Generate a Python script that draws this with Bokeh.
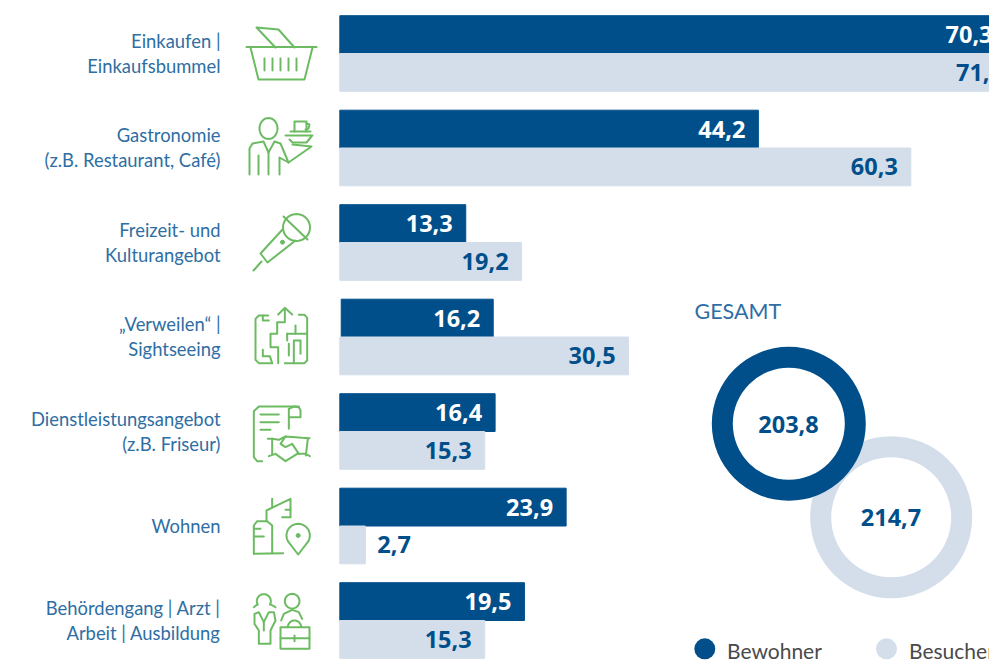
import math
from bokeh.plotting import figure
from bokeh.models import ColumnDataSource, Range1d
from bokeh.core.properties import value
from bokeh.embed import file_html
from bokeh.resources import INLINE

# ---------- data ----------
categories = [
    ["Einkaufen |", "Einkaufsbummel"],
    ["Gastronomie", "(z.B. Restaurant, Café)"],
    ["Freizeit- und", "Kulturangebot"],
    ["„Verweilen“ |", "Sightseeing"],
    ["Dienstleistungsangebot", "(z.B. Friseur)"],
    ["Wohnen"],
    ["Behördengang | Arzt |", "Arbeit | Ausbildung"],
]
bewohner = [70.3, 44.2, 13.3, 16.2, 16.4, 23.9, 19.5]
besucher = [71.4, 60.3, 19.2, 30.5, 15.3, 2.7, 15.3]
gesamt_title = "GESAMT"
gesamt_bewohner = 203.8
gesamt_besucher = 214.7
legend_names = ["Bewohner", "Besucher"]

# ---------- style ----------
DARK = "#004f8b"
LIGHT = "#d3deea"
TEXT = "#2e6ea3"
GREEN = "#6cbb63"
GREY = "#4a4a4a"
LABEL_FONT = "Lato"
VALUE_FONT = "Open Sans"

W, H = 989, 665
PX_PER_UNIT = 9.47
X0 = 339.3          # page px of value 0
Y0 = 53.0           # page px of first row centre
ROW = 94.5
BAR = 0.4
PAD = 13


def fmt(v):
    return f"{v:.1f}".replace(".", ",")


p = figure(
    width=W, height=H, output_backend="svg", toolbar_location=None,
    x_range=Range1d((0 - X0) / PX_PER_UNIT, (W - X0) / PX_PER_UNIT),
    y_range=Range1d((H - Y0) / ROW, (0 - Y0) / ROW),
    min_border=0, outline_line_color=None, background_fill_color="white",
    border_fill_color="white",
)
p.xaxis.visible = False
p.yaxis.visible = False
p.grid.visible = False
p.extra_x_ranges = {"px": Range1d(0, W)}
p.extra_y_ranges = {"px": Range1d(H, 0)}
PX = dict(x_range_name="px", y_range_name="px")

rows = list(range(len(categories)))
src = ColumnDataSource(dict(
    row_a=[r - BAR / 2 for r in rows],
    row_b=[r + BAR / 2 for r in rows],
    bew=bewohner, bes=besucher,
    bew_start=[0.15 if r == 3 else 0 for r in rows],   # the reference's 4th dark bar starts a little to the right
    bew_l=[fmt(v) for v in bewohner], bes_l=[fmt(v) for v in besucher],
))
p.hbar(y="row_a", right="bew", left="bew_start", height=BAR, color=DARK, source=src)
p.hbar(y="row_b", right="bes", left=0, height=BAR, color=LIGHT, source=src)

vfont = dict(text_font=value(VALUE_FONT), text_font_style="bold",
             text_font_size="23.5px", text_baseline="middle")
p.text(x="bew", y="row_a", text="bew_l", text_color="white", text_align="right",
       x_offset=-PAD, source=src, **vfont)
inside = [i for i in rows if besucher[i] >= 5]
outside = [i for i in rows if besucher[i] < 5]
p.text(x=[besucher[i] for i in inside], y=[i + BAR / 2 for i in inside],
       text=[fmt(besucher[i]) for i in inside], text_color=DARK, text_align="right",
       x_offset=-PAD, **vfont)
p.text(x=[besucher[i] for i in outside], y=[i + BAR / 2 for i in outside],
       text=[fmt(besucher[i]) for i in outside], text_color=DARK, text_align="left",
       x_offset=12, **vfont)

# category labels
lx, ly, lt = [], [], []
for r, lines in enumerate(categories):
    n = len(lines)
    for k, t in enumerate(lines):
        lx.append(220)
        ly.append(Y0 + r * ROW + (k - (n - 1) / 2) * 25 - 0.5)
        lt.append(t)
p.text(x=lx, y=ly, text=lt, text_color=TEXT, text_align="right", text_baseline="middle",
       text_font=value(LABEL_FONT), text_font_size="18.4px", **PX)


# ---------- icons (decoration, page pixel coordinates) ----------
def circ(cx, cy, rx, ry=None, a0=0, a1=360, n=40):
    ry = rx if ry is None else ry
    pts = [(cx + rx * math.cos(math.radians(a0 + (a1 - a0) * i / n)),
            cy + ry * math.sin(math.radians(a0 + (a1 - a0) * i / n))) for i in range(n + 1)]
    return pts


def z(pts, ox, oy):
    return [(ox + a / 3, oy + b / 3) for a, b in pts]


icons = []
# basket
icons += [[(246, 46.5), (316, 46.5)], [(250, 47), (258, 79), (304, 79), (312, 47)],
          [(264, 58), (264, 70)], [(272, 58), (272, 70)], [(280, 58), (280, 70)],
          [(288, 58), (288, 70)], [(296, 58), (296, 70)],
          [(275, 47), (256, 27), (278, 29), (294, 47)]]
# waiter
icons += [circ(268, 128, 9, 10.5),
          [(249, 174), (249, 148), (252, 143), (263, 141), (268, 152), (274, 141), (280, 143),
           (288, 162), (311, 146), (292, 144)],
          [(258, 174), (258, 155)], [(268, 152), (268, 174)], [(279, 174), (279, 157), (288, 162)],
          [(285, 135), (312, 135)], [(289, 139), (292, 142), (306, 142), (311, 136)],
          [(294, 131), (294, 121), (306, 121), (306, 131)], [(290, 131), (310, 131)],
          [(306, 123), (309, 124), (308, 128), (305, 129)]]
# microphone
icons += [circ(296, 227, 13.5),
          [(283, 216), (307, 239)],
          [(282, 229), (260, 253), (267, 262), (295, 240)],
          [(261, 261), (253, 270)]]
# maze
M = [[(113, 375), (85, 375), (75, 385), (75, 508), (85, 518), (125, 518)],
     [(97, 375), (97, 390), (115, 390)], [(97, 478), (97, 497), (118, 497), (125, 518)],
     [(163, 355), (163, 395), (140, 395), (140, 430), (120, 430), (120, 470), (143, 470), (143, 518)],
     [(143, 372), (163, 352), (185, 372)],
     [(205, 373), (222, 373), (230, 382), (230, 510), (222, 518), (163, 518)],
     [(170, 430), (230, 430)], [(170, 430), (170, 450)], [(195, 405), (195, 430)],
     [(175, 460), (175, 495)], [(190, 518), (190, 450), (210, 450), (210, 490)]]
icons += [z(m, 230, 190) for m in M]
# document + handshake
D = [[(205, 648), (85, 648), (70, 662), (70, 800), (80, 812), (95, 812)],
     [(175, 715), (175, 655), (190, 648), (205, 650), (210, 660), (210, 680), (175, 680)],
     [(90, 672), (145, 672)], [(90, 695), (145, 695)], [(90, 718), (120, 718)],
     [(112, 745), (125, 745), (145, 748), (165, 738), (215, 742), (237, 743)],
     [(125, 745), (125, 790)], [(232, 745), (226, 795)],
     [(115, 797), (135, 790), (165, 812), (200, 790), (225, 790), (238, 797)],
     [(165, 738), (150, 760), (165, 770), (185, 760), (205, 790)]]
icons += [z(m, 230, 190) for m in D]
# building + pin
B = [[(70, 220), (70, 135), (80, 122), (110, 122), (125, 135), (125, 218)],
     [(70, 220), (158, 218)], [(70, 145), (90, 145)], [(70, 168), (100, 168)],
     [(108, 122), (108, 90), (180, 55), (180, 110), (155, 110)],
     [(125, 55), (125, 80)], [(165, 88), (180, 88)],
     [(203, 222)] + circ(203, 165, 35, 35, 145, 395) + [(203, 222)]]
icons += [z(m, 230, 480) for m in B]
# people
P = [circ(100, 362, 21, 21, 150, 390 + 0),
     [(70, 380), (80, 372)], [(135, 380), (121, 372)],
     [(85, 490), (120, 490), (120, 450), (135, 420), (130, 395), (115, 395), (100, 425), (85, 395),
      (72, 400), (72, 430), (85, 450), (85, 490)],
     [(100, 425), (100, 450)],
     circ(185, 362, 22),
     [(152, 420), (160, 400), (185, 388), (205, 395), (215, 415)],
     [(150, 440), (237, 440), (237, 505), (150, 505), (150, 440)],
     circ(192, 440, 20, 20, 180, 360),
     [(150, 473), (237, 473)], [(192, 465), (192, 482)]]
icons += [z(m, 230, 480) for m in P]

p.multi_line(xs=[[a for a, _ in s] for s in icons], ys=[[b for _, b in s] for s in icons],
             line_color=GREEN, line_width=2, line_join="round", line_cap="round", **PX)
p.scatter(x=[282, 297.7], y=[241.7, 535], size=4, color=GREEN, **PX)

# ---------- totals ----------
p.text(x=[694], y=[310], text=[gesamt_title], text_color=TEXT, text_align="left",
       text_baseline="middle", text_font=value(LABEL_FONT), text_font_size="21.5px", **PX)
p.annulus(x=[890.7], y=[516.7], inner_radius=60, outer_radius=81,
          inner_radius_units="screen", outer_radius_units="screen", color=LIGHT, line_color=None, **PX)
p.annulus(x=[788.3], y=[423.3], inner_radius=56, outer_radius=77,
          inner_radius_units="screen", outer_radius_units="screen", color=DARK, line_color=None, **PX)
p.text(x=[788, 890.5], y=[424, 517], text=[fmt(gesamt_bewohner), fmt(gesamt_besucher)], text_color=DARK,
       text_align="center", **vfont, **PX)

# ---------- legend ----------
p.scatter(x=[704.3, 886], y=[648.3, 648.3], size=21, color=[DARK, LIGHT], line_color=None, **PX)
p.text(x=[726.5, 908.5], y=[650, 650], text=legend_names, text_color=GREY, text_align="left",
       text_baseline="middle", text_font=value(LABEL_FONT), text_font_size="21px", **PX)

open("out.html", "w").write(file_html(p, INLINE))
